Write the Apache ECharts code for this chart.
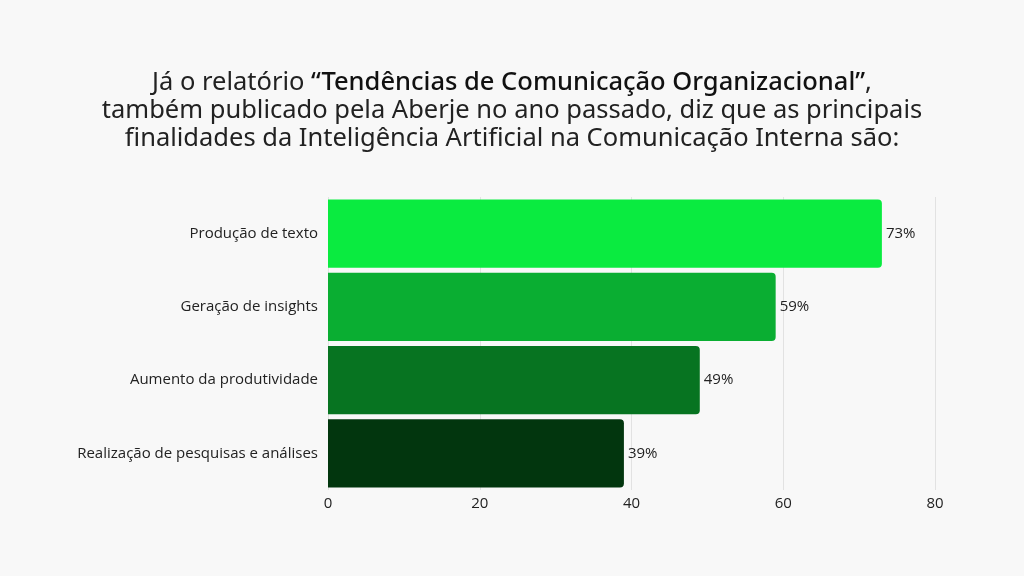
<!DOCTYPE html>
<html>
<head>
<meta charset="utf-8">
<script src="https://cdn.jsdelivr.net/npm/echarts@6/dist/echarts.min.js"></script>
<style>
  html, body { margin: 0; padding: 0; background: #f8f8f8; }
  #chart { width: 1024px; height: 576px; }
</style>
</head>
<body>
<div id="chart"></div>
<script>
// categorias (de baixo para cima no eixo y)
var categories = ['Realização de pesquisas e análises', 'Aumento da produtividade', 'Geração de insights', 'Produção de texto']
var values = [39, 49, 59, 73]
var barColors = ['#02360e', '#077421', '#0aae32', '#0aeb40']
var xTicks = [0, 20, 40, 60, 80]

var chart = echarts.init(document.getElementById('chart'))
chart.setOption({
  backgroundColor: '#f8f8f8',
  title: {
    text: 'Já o relatório {b|“Tendências de Comunicação Organizacional”},\ntambém publicado pela Aberje no ano passado, diz que as principais\nfinalidades da Inteligência Artificial na Comunicação Interna são:',
    left: 'center',
    top: 64,
    textStyle: {
      fontFamily: 'Noto Sans',
      fontSize: 25.5,
      fontWeight: 'normal',
      color: '#222',
      lineHeight: 28,
      rich: {
        b: { fontFamily: 'Noto Sans', fontSize: 25.5, fontWeight: 500, color: '#111', lineHeight: 28 }
      }
    }
  },
  grid: {
    left: 328,
    right: 89,
    top: 197,
    bottom: 86
  },
  xAxis: {
    type: 'value',
    min: xTicks[0],
    max: xTicks[xTicks.length - 1],
    interval: 20,
    axisLine: { show: false },
    axisTick: { show: false },
    axisLabel: { color: '#222', fontFamily: 'Open Sans', fontSize: 15, margin: 6 },
    splitLine: { lineStyle: { color: '#e2e2e2' } }
  },
  yAxis: {
    type: 'category',
    data: categories,
    axisLine: { show: false },
    axisTick: { show: false },
    axisLabel: { color: '#222', fontFamily: 'Open Sans', fontSize: 15, margin: 10 }
  },
  series: [
    {
      type: 'bar',
      data: values.map(function (v, i) {
        return { value: v, itemStyle: { color: barColors[i] } }
      }),
      barCategoryGap: '7%',
      itemStyle: { borderRadius: [0, 4, 4, 0] },
      label: {
        show: true,
        position: 'right',
        distance: 4,
        formatter: '{c}%',
        color: '#222',
        fontFamily: 'Open Sans',
        fontSize: 15
      }
    }
  ]
})
</script>
</body>
</html>
